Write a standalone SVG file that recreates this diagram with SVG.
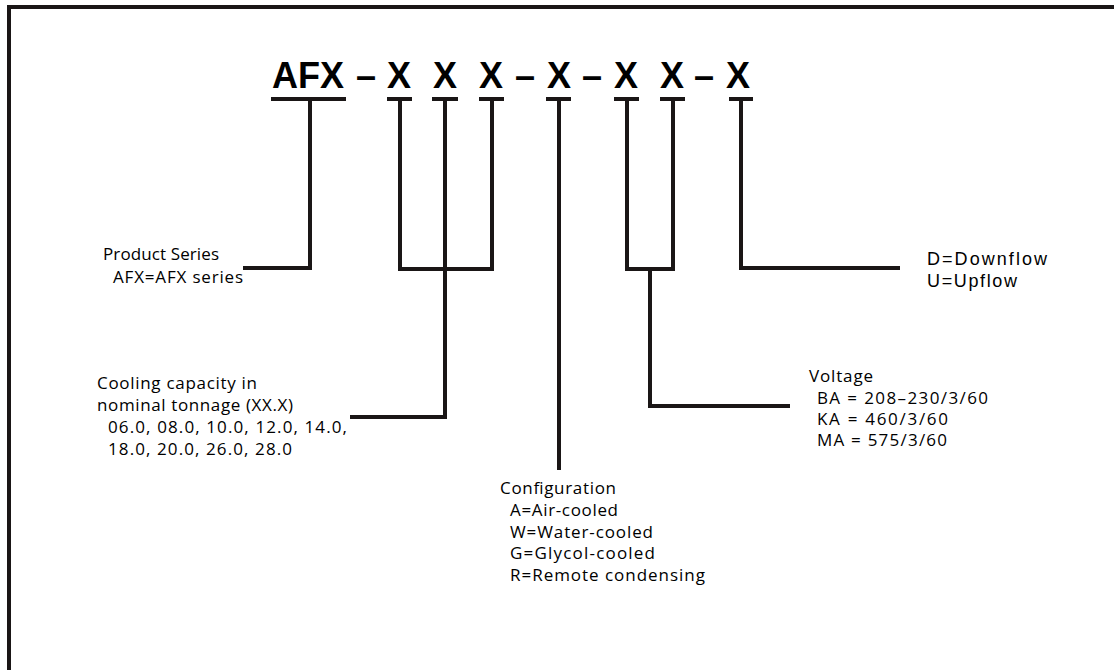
<svg xmlns="http://www.w3.org/2000/svg" width="1114" height="670" viewBox="0 0 1114 670">
<style>
.code{font-family:"Liberation Sans",Arial,sans-serif;font-weight:bold;font-size:36px;fill:#000}
.lbl{font-family:"Open Sans","Noto Sans",sans-serif;font-size:17px;fill:#000}
.lbl2{font-family:"Liberation Sans",Arial,sans-serif;font-size:18px;fill:#000}
.ln{fill:none;stroke:#1a1616;stroke-width:4;stroke-linecap:butt}
</style>
<rect width="1114" height="670" fill="#fff"/>
<g id="frame"><path class="ln" d="M9,670 V7 H1114"/></g>
<g id="code" class="code">
<text x="308" y="88" text-anchor="middle">AFX</text>
<text x="366" y="88" text-anchor="middle">–</text>
<text x="399" y="88" text-anchor="middle">X</text>
<text x="445" y="88" text-anchor="middle">X</text>
<text x="491" y="88" text-anchor="middle">X</text>
<text x="525" y="88" text-anchor="middle">–</text>
<text x="559" y="88" text-anchor="middle">X</text>
<text x="592" y="88" text-anchor="middle">–</text>
<text x="626" y="88" text-anchor="middle">X</text>
<text x="672" y="88" text-anchor="middle">X</text>
<text x="704" y="88" text-anchor="middle">–</text>
<text x="738" y="88" text-anchor="middle">X</text>
</g>
<g id="connectors">
<path class="ln" d="M271,99 H346 M310,99 V268 H243"/>
<path class="ln" d="M387,99 H412 M432,99 H458 M479,99 H504"/>
<path class="ln" d="M400,99 V269 H492 V99 M445,99 V417 H350"/>
<path class="ln" d="M546,99 H571 M559,99 V470"/>
<path class="ln" d="M614,99 H639 M660,99 H685"/>
<path class="ln" d="M627,99 V269 H673 V99 M650,269 V406 H790"/>
<path class="ln" d="M729,99 H753 M741,99 V268 H900"/>
</g>
<g id="product-series" class="lbl">
<text x="103" y="260" textLength="116" lengthAdjust="spacing">Product Series</text>
<text x="113" y="283" textLength="130" lengthAdjust="spacing">AFX=AFX series</text>
</g>
<g id="cooling-capacity" class="lbl">
<text x="97" y="389" textLength="160" lengthAdjust="spacing">Cooling capacity in</text>
<text x="97" y="411" textLength="196" lengthAdjust="spacing">nominal tonnage (XX.X)</text>
<text x="108" y="433" textLength="239" lengthAdjust="spacing">06.0, 08.0, 10.0, 12.0, 14.0,</text>
<text x="108" y="455" textLength="184" lengthAdjust="spacing">18.0, 20.0, 26.0, 28.0</text>
</g>
<g id="configuration" class="lbl">
<text x="500" y="494" textLength="116" lengthAdjust="spacing">Configuration</text>
<text x="510" y="516" textLength="108" lengthAdjust="spacing">A=Air-cooled</text>
<text x="510" y="538" textLength="143" lengthAdjust="spacing">W=Water-cooled</text>
<text x="510" y="559" textLength="145" lengthAdjust="spacing">G=Glycol-cooled</text>
<text x="510" y="581" textLength="195" lengthAdjust="spacing">R=Remote condensing</text>
</g>
<g id="voltage" class="lbl">
<text x="809" y="382" textLength="64" lengthAdjust="spacing">Voltage</text>
<text x="817" y="404" textLength="171" lengthAdjust="spacing">BA = 208–230/3/60</text>
<text x="817" y="425" textLength="131" lengthAdjust="spacing">KA = 460/3/60</text>
<text x="817" y="446" textLength="130" lengthAdjust="spacing">MA = 575/3/60</text>
</g>
<g id="airflow" class="lbl2">
<text x="927" y="265" textLength="120" lengthAdjust="spacing">D=Downflow</text>
<text x="927" y="287" textLength="90" lengthAdjust="spacing">U=Upflow</text>
</g>
</svg>
